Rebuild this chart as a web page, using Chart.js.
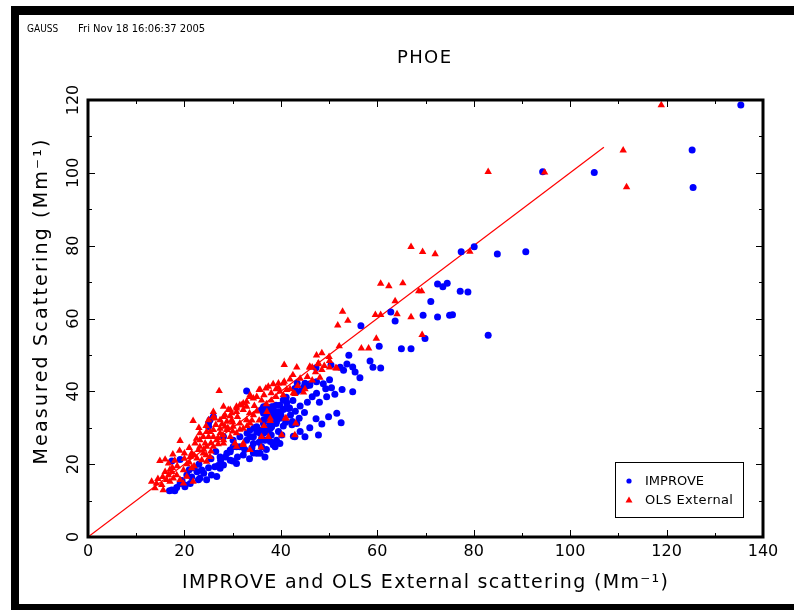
<!DOCTYPE html>
<html>
<head>
<meta charset="utf-8">
<script src="https://cdn.jsdelivr.net/npm/chart.js@4.4.1/dist/chart.umd.min.js"></script>
<style>
  html, body { margin: 0; padding: 0; background: #fff; }
  canvas { display: block; }
</style>
</head>
<body>
<canvas id="rel1" width="794" height="610"></canvas>
<script>
// IMPROVE points [x, y]
var improvePts = [
  [135.4,118.6],[125.3,106.3],[125.5,96.0],[105.0,100.1],[94.3,100.3],
  [80.1,79.7],[77.4,78.3],[84.9,77.7],[90.8,78.3],[72.5,69.5],[73.6,68.7],[74.5,69.7],
  [77.2,67.5],[78.8,67.3],[71.1,64.7],[62.8,61.8],[63.7,59.3],[69.5,60.9],[72.5,60.4],
  [75.0,60.9],[75.6,61.0],[83.0,55.4],[69.9,54.5],[56.6,58.0],[60.4,52.4],[65.0,51.7],
  [67.0,51.7],[54.1,49.9],[58.5,48.3],[53.7,47.5],[59.1,46.6],[60.7,46.4],[54.9,46.7],
  [55.4,45.3],[52.3,46.6],[53.0,45.8],[56.4,43.7],[50.4,47.2],[50.1,43.2],[47.4,42.6],
  [48.8,42.1],[46.0,42.0],[45.4,41.5],[47.3,46.5],[49.3,40.7],[52.7,40.5],[51.2,39.2],
  [54.9,39.9],[52.5,31.4],[43.4,42.2],[44.3,40.4],[44.7,41.1],[42.9,40.8],[43.3,39.9],
  [41.1,38.4],[40.5,37.6],[41.2,36.9],[39.0,36.2],[38.1,35.8],[37.1,35.3],[37.6,34.0],
  [38.8,34.4],[39.5,33.5],[38.1,32.6],[39.1,31.7],[39.8,32.6],[41.8,35.4],[44.9,34.2],
  [47.3,32.5],[43.8,32.6],[42.4,31.7],[42.3,30.8],[43.3,31.2],[40.2,28.0],[45.0,27.5],
  [47.8,28.0],[36.4,35.8],[36.0,34.9],[36.4,31.2],[37.8,29.8],[37.1,28.9],[36.0,29.4],
  [32.9,40.1],[41.3,35.8],[39.8,36.2],[37.4,34.4],[38.4,33.5],[36.4,34.0],[37.1,32.6],
  [47.4,39.5],[39.0,31.2],[38.1,30.3],[37.4,29.4],[36.4,28.5],[35.0,28.9],[39.1,26.6],
  [38.4,25.3],[37.8,26.2],[42.9,27.5],[39.8,25.7],[36.0,24.8],[34.3,25.7],[33.6,27.5],
  [35.0,23.0],[36.7,22.0],[32.2,22.5],[30.1,24.8],[29.5,23.4],[27.4,22.0],[25.0,31.2],
  [25.3,32.1],[26.0,33.0],[17.4,20.9],[19.1,21.3],[17.4,12.9],[18.4,13.6],[19.1,14.7],
  [20.1,14.3],[23.2,16.1],[24.6,15.7],[25.6,17.0],[26.7,16.6],[22.6,17.9],[23.6,18.4],
  [27.4,18.9],[29.5,21.1],[30.8,20.2],[26.3,19.3],[28.1,19.8],[29.5,23.9],[30.8,24.8],
  [30.1,26.6],[28.1,27.5],[16.9,12.7],[18.0,12.7],[20.1,13.8],[21.2,14.7],[22.9,15.7],
  [27.0,19.6],[30.0,20.9],[34.3,23.1],[35.7,23.0],[38.8,24.8],[42.6,27.7],[49.9,33.0],
  [51.6,34.0],[25.0,30.3],[33.6,29.4],[35.0,30.3],[36.4,32.1],[37.1,33.5],[37.8,34.9],
  [38.4,35.8],[39.5,34.4],[39.8,33.0],[39.1,32.1],[37.8,31.2],[37.1,29.8],[35.7,28.5],
  [34.3,27.5],[32.9,26.6],[31.5,24.8],[28.8,23.0],[36.7,26.6],[38.4,25.7],[40.9,37.6],
  [41.5,35.3],[45.0,42.2],[46.0,41.7],
  [20.5,17.0],[21.5,16.5],[22.0,19.0],[24.0,17.5],[25.0,19.0],[27.5,21.0],[28.5,22.0],
  [31.0,22.0],[32.5,24.0],[33.5,21.5],[34.0,24.5],[35.5,26.0],[37.0,24.0],[36.0,27.0],
  [38.0,28.0],[39.5,29.0],[40.5,30.5],[41.0,31.5],[40.0,33.5],[40.5,35.0],[42.0,33.5],
  [43.0,34.5],[44.0,36.0],[42.5,37.5],[45.5,37.0],[46.5,38.5],[48.0,37.0],[49.5,38.5],
  [50.5,41.0],[44.0,29.0],[46.0,30.0],[48.5,31.0],[19.5,15.5],[21.0,18.5],[23.0,20.0],
  [25.5,21.5],[26.5,23.5],[31.5,27.5],[33.0,28.5],[34.5,30.0]
];

// OLS External points [x, y]
var olsPts = [
  [118.9,118.6],[111.0,106.2],[111.7,96.1],[83.0,100.3],[94.7,100.1],
  [67.0,79.7],[69.4,78.3],[72.0,77.7],[79.2,78.4],[60.7,69.6],[62.4,68.9],[65.3,69.7],
  [68.6,67.5],[69.2,67.5],[63.7,64.8],[52.8,61.9],[59.6,61.0],[60.7,61.0],[64.1,61.2],
  [51.8,58.1],[53.9,59.4],[67.0,60.4],[69.3,55.5],[59.8,54.5],[52.1,52.4],[56.7,51.8],
  [58.2,51.8],[47.4,49.9],[47.7,47.5],[50.1,48.4],[46.0,46.5],[46.5,46.6],[47.2,45.3],
  [48.5,45.9],[50.1,46.6],[51.4,46.4],[48.1,43.8],[40.7,47.3],[41.9,43.3],[40.7,42.7],
  [39.5,42.2],[38.4,42.0],[37.4,41.3],[36.9,40.8],[39.0,40.6],[39.8,39.9],[41.9,40.6],
  [42.9,39.3],[44.7,39.7],[45.0,40.6],[37.1,34.4],[37.8,32.6],[41.1,32.6],[43.1,31.2],
  [42.9,28.0],[37.4,27.5],[43.3,46.6],[27.2,40.1],[35.5,40.4],[33.6,39.0],[34.3,38.1],
  [32.9,37.2],[31.9,36.2],[32.2,34.9],[30.8,34.4],[29.8,34.0],[29.1,34.9],[28.4,33.5],
  [26.0,34.4],[25.0,32.1],[26.3,32.6],[27.4,32.1],[37.8,31.9],[40.9,32.6],[40.2,28.0],
  [36.0,27.5],[35.9,24.6],[33.6,23.9],[32.2,25.7],[21.8,31.9],[19.1,26.4],[17.6,22.7],
  [19.0,23.7],[14.9,20.9],[16.0,21.3],[16.7,20.2],[13.2,15.2],[14.2,14.7],[13.9,13.4],
  [15.3,14.3],[15.6,12.9],[16.0,17.9],[16.7,17.0],[17.4,17.9],[16.3,15.7],[17.7,16.1],
  [18.4,17.0],[17.0,15.2],[19.8,18.4],[20.5,16.6],[21.5,18.9],[21.8,15.2],[19.1,15.7],
  [19.8,14.7],[22.2,25.7],[22.9,23.9],[23.9,23.0],[21.2,22.0],[22.6,21.6],[23.6,21.1],
  [24.6,20.7],[25.3,22.0],[23.2,28.5],[24.6,28.9],[26.0,29.4],[27.4,29.8],[28.4,30.3],
  [26.0,33.0],[28.1,33.0],[29.5,34.9],[30.8,35.8],[29.8,32.1],[28.8,31.7],[25.0,27.5],
  [26.7,26.6],[28.1,25.7],[29.5,27.5],[30.5,25.7],[26.0,24.8],[24.3,25.7],[28.1,35.8],
  [30.8,35.3],[31.5,36.2],[32.2,36.7],[32.9,35.8],[33.6,38.5],[35.7,40.4],[40.5,42.2],
  [41.2,40.4],[42.6,39.5],[46.0,46.8],[47.8,47.7],[51.6,46.3],[30.8,24.8],[32.2,25.3],
  [28.8,29.4],[30.1,30.3],[30.8,28.5],[28.1,26.6],[31.5,31.2],[32.9,32.1],[34.3,33.5],
  [33.6,31.2],[32.2,29.8],[27.4,28.5],[26.0,27.5],[25.3,28.9],[23.9,27.5],[23.2,26.6],
  [23.2,24.8],[24.6,24.8],
  [20.5,20.0],[21.5,23.0],[22.0,19.5],[18.5,19.5],[17.5,19.0],[15.5,16.5],[14.5,16.0],
  [20.0,21.5],[24.0,24.0],[25.5,25.8],[27.0,27.2],[26.5,30.8],[27.8,31.0],[29.0,30.0],
  [30.0,31.5],[31.0,33.0],[29.5,33.2],[28.0,28.0],[27.0,25.5],[25.5,23.5],[24.5,22.5],
  [22.0,22.5],[21.0,20.5],[30.0,29.0],[31.5,29.5],[33.0,30.5],[34.0,32.0],[35.0,34.5],
  [34.5,36.0],[33.5,34.0],[36.0,37.5],[35.0,38.5],[36.5,39.0],[38.0,39.5],[39.5,41.0],
  [38.0,37.5],[40.5,39.0],[43.5,41.5],[44.0,43.5],[42.5,44.5],[45.5,44.0],[46.5,43.0],
  [49.0,47.0],[50.0,49.5],[48.5,50.5],[35.5,32.0],[36.5,30.5],[39.0,38.5],[37.0,36.5],
  [24.5,30.5],[23.0,30.0],[22.5,27.0],[21.0,24.5],[20.0,23.0],[18.0,21.0],[17.0,18.5]
];

// fitted 1:1 line
var fitX = [0, 107];
var fitY = [0, 107];

var xTicks = [0, 20, 40, 60, 80, 100, 120, 140];
var yTicks = [0, 20, 40, 60, 80, 100, 120];
var minorStep = 10;

var titleText = "PHOE";
var headerLeft = "GAUSS";
var headerDate = "Fri Nov 18 16:06:37 2005";
var xTitle = "IMPROVE and OLS External scattering (Mm\u207B\u00B9)";
var yTitle = "Measured Scattering (Mm\u207B\u00B9)";
var legendNames = ["IMPROVE", "OLS External"];

function toXY(arr) {
  return arr.map(function (p) { return { x: p[0], y: p[1] }; });
}

var FONT = "'DejaVu Sans', 'Liberation Sans', sans-serif";

// draw text centred at (cx, cy) stretched by letter spacing to a given width
function spacedText(ctx, text, cx, cy, width) {
  ctx.letterSpacing = "0px";
  var w = ctx.measureText(text).width;
  var sp = (width - w) / (text.length - 1);
  if (sp < 0) sp = 0;
  ctx.letterSpacing = sp.toFixed(2) + "px";
  ctx.textAlign = "left";
  ctx.fillText(text, cx - width / 2, cy);
  ctx.letterSpacing = "0px";
}

var decor = {
  id: "decor",
  beforeDraw: function (chart) {
    var ctx = chart.ctx;
    ctx.save();
    ctx.fillStyle = "#fff";
    ctx.fillRect(0, 0, chart.width, chart.height);
    ctx.restore();
  },
  afterDraw: function (chart) {
    var ctx = chart.ctx;
    var a = chart.chartArea;
    var xs = chart.scales.x, ys = chart.scales.y;
    ctx.save();

    // frame of the page
    ctx.fillStyle = "#000";
    ctx.fillRect(11, 6, chart.width - 11, 9);
    ctx.fillRect(11, 6, 8, chart.height - 6);
    ctx.fillRect(11, 604, chart.width - 11, 6);

    // ticks, inward on all four sides
    ctx.strokeStyle = "#000";
    ctx.lineWidth = 1;
    var v, px, len;
    for (v = xs.min; v <= xs.max; v += minorStep) {
      px = Math.round(xs.getPixelForValue(v)) + 0.5;
      len = (v % 20 === 0) ? 7 : 4;
      ctx.beginPath();
      ctx.moveTo(px, a.bottom); ctx.lineTo(px, a.bottom - len);
      ctx.moveTo(px, a.top); ctx.lineTo(px, a.top + len);
      ctx.stroke();
    }
    for (v = ys.min; v <= ys.max; v += minorStep) {
      px = Math.round(ys.getPixelForValue(v)) + 0.5;
      len = (v % 20 === 0) ? 7 : 4;
      ctx.beginPath();
      ctx.moveTo(a.left, px); ctx.lineTo(a.left + len, px);
      ctx.moveTo(a.right, px); ctx.lineTo(a.right - len, px);
      ctx.stroke();
    }

    // plot box
    ctx.lineWidth = 3;
    ctx.strokeRect(a.left, a.top, a.right - a.left, a.bottom - a.top);

    // tick labels
    ctx.fillStyle = "#000";
    ctx.font = "16px " + FONT;
    ctx.textAlign = "center";
    ctx.textBaseline = "middle";
    xTicks.forEach(function (t) {
      ctx.fillText(String(t), xs.getPixelForValue(t), 552);
    });
    yTicks.forEach(function (t) {
      ctx.save();
      ctx.translate(74, ys.getPixelForValue(t));
      ctx.rotate(-Math.PI / 2);
      ctx.fillText(String(t), 0, 0);
      ctx.restore();
    });

    // axis titles
    ctx.font = "19px " + FONT;
    spacedText(ctx, xTitle, 425, 583, 486);
    ctx.save();
    ctx.translate(42, 302);
    ctx.rotate(-Math.PI / 2);
    spacedText(ctx, yTitle, 0, 0, 325);
    ctx.restore();

    // title + header
    ctx.font = "18px " + FONT;
    spacedText(ctx, titleText, 424, 58, 54);
    ctx.textAlign = "left";
    ctx.font = "10px 'DejaVu Sans Condensed', " + FONT;
    ctx.fillText(headerLeft, 27, 29);
    ctx.font = "10px " + FONT;
    ctx.fillText(headerDate, 78, 29);

    // legend box
    ctx.lineWidth = 1;
    ctx.strokeRect(615.5, 462.5, 128, 55);
    var ds = chart.data.datasets;
    ctx.fillStyle = ds[1].backgroundColor;
    ctx.beginPath(); ctx.arc(629, 481, 2.6, 0, Math.PI * 2); ctx.fill();
    ctx.fillStyle = ds[0].backgroundColor;
    ctx.beginPath();
    ctx.moveTo(629, 496.5); ctx.lineTo(632.5, 502.5); ctx.lineTo(625.5, 502.5);
    ctx.closePath(); ctx.fill();
    ctx.fillStyle = "#000";
    ctx.font = "13px " + FONT;
    ctx.fillText(legendNames[0], 645, 482);
    spacedText(ctx, legendNames[1], 645 + 44, 501, 88);

    ctx.restore();
  }
};

var obj1 = document.getElementById("rel1");
var rel1 = new Chart(obj1, {
  type: "scatter",
  data: {
    datasets: [
      {
        label: legendNames[1],
        data: toXY(olsPts),
        pointStyle: "triangle",
        pointRadius: 4.3,
        borderWidth: 0,
        backgroundColor: "#FF0000",
        borderColor: "#FF0000",
        order: 1
      },
      {
        label: legendNames[0],
        data: toXY(improvePts),
        pointStyle: "circle",
        pointRadius: 3.5,
        borderWidth: 0,
        backgroundColor: "#0000FF",
        borderColor: "#0000FF",
        order: 2
      },
      {
        label: "fit",
        data: fitX.map(function (x, i) { return { x: x, y: fitY[i] }; }),
        showLine: true,
        pointRadius: 0,
        borderWidth: 1.2,
        borderColor: "#FF0000",
        fill: false,
        order: 3
      }
    ]
  },
  options: {
    responsive: false,
    animation: false,
    events: [],
    layout: { padding: { left: 88, right: 31, top: 100, bottom: 73 } },
    plugins: { legend: { display: false }, tooltip: { enabled: false }, title: { display: false } },
    scales: {
      x: { type: "linear", min: 0, max: 140, display: false },
      y: { type: "linear", min: 0, max: 120, display: false }
    }
  },
  plugins: [decor]
});
</script>
</body>
</html>
